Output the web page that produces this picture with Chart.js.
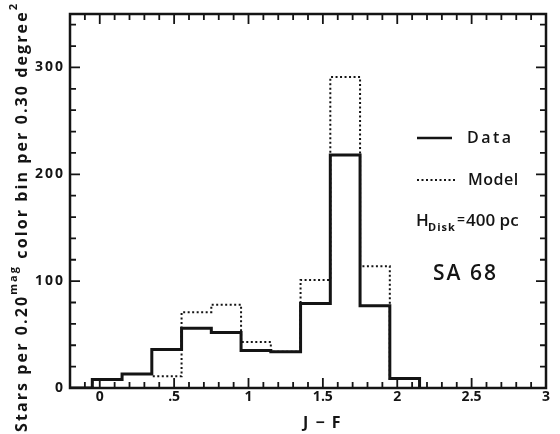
<!DOCTYPE html>
<html>
<head>
<meta charset="utf-8">
<script src="https://cdn.jsdelivr.net/npm/chart.js@4"></script>
<style>
  html, body { margin: 0; padding: 0; background: #fff; }
  #wrap { width: 560px; height: 434px; }
</style>
</head>
<body>
<div id="wrap"><canvas id="histo" width="560" height="434"></canvas></div>
<script>
// bins of J-F colour, 0.20 mag wide
const binCenters = [0.05, 0.25, 0.45, 0.65, 0.85, 1.05, 1.25, 1.45, 1.65, 1.85, 2.05];
const binWidth = 0.2;
const dataCounts = [8, 13, 36, 56, 52, 35, 34, 79, 218, 77, 9];
const modelCounts = [8, 13, 11, 71, 78, 43, 34, 101, 291, 114, 9];

const xTickValues = [0, 0.5, 1, 1.5, 2, 2.5, 3];
const xTickLabels = ['0', '.5', '1', '1.5', '2', '2.5', '3'];
const yTickValues = [0, 100, 200, 300];
const yTickLabels = ['0', '100', '200', '300'];

const xMin = -0.2, xMax = 3.0, yMin = 0, yMax = 350;
const ink = '#141414';

// step outline: left edge of each bin, then drop back to 0 (stepped 'before')
const stepPoints = (counts, start) => {
    const pts = [{ x: start, y: 0 }];
    counts.forEach((c, i) => pts.push({ x: binCenters[i] - binWidth / 2, y: c }));
    pts.push({ x: binCenters[binCenters.length - 1] + binWidth / 2, y: 0 });
    return pts;
};

// draw text char by char with extra spacing
const spaced = (ctx, str, x, y, gap) => {
    let cx = x;
    for (const ch of str) {
        ctx.fillText(ch, cx, y);
        cx += ctx.measureText(ch).width + gap;
    }
    return cx;
};
const spacedWidth = (ctx, str, gap) => {
    let w = 0;
    for (const ch of str) w += ctx.measureText(ch).width + gap;
    return w;
};

const decor = {
    id: 'decor',
    afterDraw(chart) {
        const ctx = chart.ctx;
        const a = chart.chartArea;
        const xs = chart.scales.x, ys = chart.scales.y;
        ctx.save();
        ctx.strokeStyle = ink;
        ctx.fillStyle = ink;

        // frame
        ctx.lineWidth = 2.5;
        ctx.strokeRect(a.left, a.top, a.right - a.left, a.bottom - a.top);

        // inward ticks, all four sides
        ctx.lineWidth = 1.8;
        ctx.beginPath();
        for (let k = -2; k <= 30; k++) {
            const v = k / 10;
            const px = xs.getPixelForValue(v);
            if (px <= a.left + 1 || px >= a.right - 1) continue;
            const len = (k % 5 === 0) ? 10 : 6;
            ctx.moveTo(px, a.bottom); ctx.lineTo(px, a.bottom - len);
            ctx.moveTo(px, a.top); ctx.lineTo(px, a.top + len);
        }
        for (let v = 20; v < yMax; v += 20) {
            const py = ys.getPixelForValue(v);
            const len = (v % 100 === 0) ? 10 : 6;
            ctx.moveTo(a.left, py); ctx.lineTo(a.left + len, py);
            ctx.moveTo(a.right, py); ctx.lineTo(a.right - len, py);
        }
        ctx.stroke();

        // tick labels
        ctx.font = '700 14px "Open Sans"';
        ctx.textBaseline = 'middle';
        ctx.textAlign = 'center';
        xTickValues.forEach((v, i) => {
            ctx.fillText(xTickLabels[i], xs.getPixelForValue(v), 397);
        });
        ctx.textAlign = 'left';
        yTickValues.forEach((v, i) => {
            const w = spacedWidth(ctx, yTickLabels[i], 2) - 2;
            spaced(ctx, yTickLabels[i], 63 - w, ys.getPixelForValue(v), 2);
        });

        // x title
        ctx.font = '700 16px "Open Sans"';
        ctx.textAlign = 'left';
        spaced(ctx, 'J − F', 303, 423, 1.5);

        // y title, rotated, stretched to span the height
        const parts = [
            { t: 'Stars per 0.20', sup: false },
            { t: 'mag', sup: true },
            { t: ' color bin per 0.30 degree', sup: false },
            { t: '2', sup: true }
        ];
        const mainFont = '700 16px "Open Sans"', supFont = '700 11px "Open Sans"';
        let natural = 0, nChars = 0;
        parts.forEach(p => {
            ctx.font = p.sup ? supFont : mainFont;
            natural += ctx.measureText(p.t).width;
            nChars += [...p.t].length;
        });
        const gap = (428 - natural) / (nChars - 1);
        ctx.translate(22, 432);
        ctx.rotate(-Math.PI / 2);
        let cx = 0;
        parts.forEach(p => {
            ctx.font = p.sup ? supFont : mainFont;
            cx = spaced(ctx, p.t, cx, p.sup ? -8 : 0, gap);
        });
        ctx.setTransform(1, 0, 0, 1, 0, 0);

        // legend
        ctx.lineWidth = 2.5;
        ctx.beginPath(); ctx.moveTo(417, 138); ctx.lineTo(452, 138); ctx.stroke();
        ctx.lineWidth = 2;
        ctx.setLineDash([2, 2.5]);
        ctx.beginPath(); ctx.moveTo(417, 180); ctx.lineTo(455, 180); ctx.stroke();
        ctx.setLineDash([]);
        ctx.font = '600 16px "Open Sans"';
        spaced(ctx, 'Data', 467, 138, 2.5);
        spaced(ctx, 'Model', 468, 180, 0.5);

        ctx.font = '600 17px "Open Sans"';
        ctx.fillText('H', 416, 221);
        ctx.font = '700 11px "Open Sans"';
        spaced(ctx, 'Disk', 428, 228, 1);
        ctx.font = '600 14px "Open Sans"';
        ctx.fillText('=', 457, 220);
        ctx.font = '600 17px "Open Sans"';
        spaced(ctx, '400 pc', 466, 221, 0);

        ctx.font = '600 21px "Open Sans"';
        spaced(ctx, 'SA 68', 433, 274, 2);

        ctx.restore();
    }
};

new Chart(document.getElementById('histo').getContext('2d'), {
    type: 'line',
    data: {
        datasets: [
            {
                label: 'Data',
                data: stepPoints(dataCounts, xMin),
                stepped: 'before',
                borderColor: ink,
                borderWidth: 3,
                pointRadius: 0,
                fill: false
            },
            {
                label: 'Model',
                data: stepPoints(modelCounts, binCenters[0] - binWidth / 2),
                stepped: 'before',
                borderColor: ink,
                borderWidth: 2,
                borderDash: [2, 2.5],
                pointRadius: 0,
                fill: false
            }
        ]
    },
    options: {
        responsive: false,
        animation: false,
        layout: { padding: { left: 70, right: 14, top: 14, bottom: 46 } },
        plugins: { legend: { display: false }, tooltip: { enabled: false } },
        scales: {
            x: { type: 'linear', min: xMin, max: xMax, display: false },
            y: { type: 'linear', min: yMin, max: yMax, display: false }
        }
    },
    plugins: [decor]
});
</script>
</body>
</html>
